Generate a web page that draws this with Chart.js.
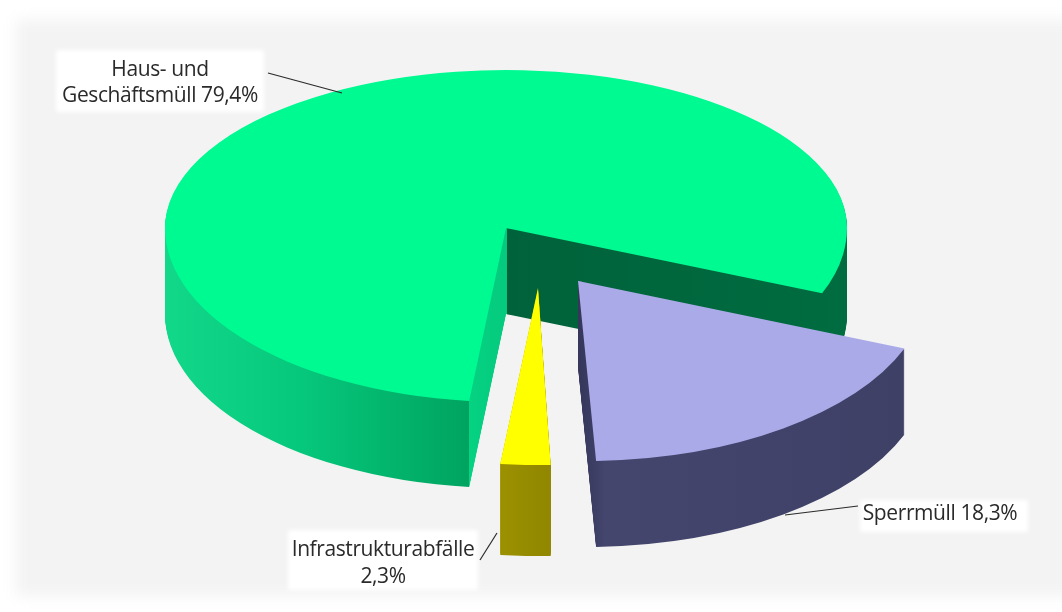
<!DOCTYPE html>
<html lang="de">
<head>
<meta charset="utf-8">
<title>Abfallmengen</title>
<script src="https://cdn.jsdelivr.net/npm/chart.js@4/dist/chart.umd.min.js"></script>
<style>
    html, body { margin: 0; padding: 0; background: #fff; }
    canvas { display: block; }
</style>
</head>
<body>
<canvas id="myChart" width="1062" height="612"></canvas>
<script>
const categories = ['Haus- und Geschäftsmüll', 'Sperrmüll', 'Infrastrukturabfälle'];
const shares = [79.4, 18.3, 2.3];
const topColors = ['#00fa92', '#aaaae8', '#ffff00'];
const labelLines = [
    ['Haus- und', 'Geschäftsmüll 79,4%'],
    ['Sperrmüll 18,3%'],
    ['Infrastrukturabfälle', '2,3%']
];

// how each slice sits in the tilted view (screen px), back half is a bit flatter than the front
const view = [
    { cx: 506, cy: 228, rx: 341, ry: 174, ryBack: 158, skew: 0, depth: 86, sides: [[165, '#12d88a'], [300, '#06c87c'], [468.5, '#00a460'], [469.5, '#05d282'], [506.9, '#05ca7e'], [507, '#00623a'], [847, '#006c40']] },
    { cx: 578, cy: 281, rx: 350, ry: 180, ryBack: 180, skew: 0.03, depth: 86, sides: [[578, '#35365a'], [600, '#44466e'], [905, '#3e4066']] },
    { cx: 538, cy: 288, rx: 350, ry: 177, ryBack: 177, skew: 0, depth: 91, sides: [[495, '#9c9200'], [555, '#908600']] }
];
const boxes = [[56, 50, 208, 62], [860, 500, 168, 32], [288, 530, 190, 60]];
const labelPos = [[160, 76, 102], [940, 520], [383, 556, 583]];
const leaders = [[268, 73, 342, 93], [785, 515, 858, 506], [480, 560, 497, 533]];

function sideGradient(ctx, arc, v, sx) {
    const stops = v.sides;
    const x0 = stops[0][0], x1 = stops[stops.length - 1][0];
    const g = ctx.createLinearGradient(arc.x + (x0 - v.cx) / sx, 0, arc.x + (x1 - v.cx) / sx, 0);
    stops.forEach(s => g.addColorStop((s[0] - x0) / (x1 - x0), s[1]));
    return g;
}

function drawHalf(ctx, arc, v, shift, color, ry, clipY, clipH) {
    const sx = v.rx / arc.outerRadius, sy = ry / arc.outerRadius;
    const opts = arc.options;
    ctx.save();
    ctx.beginPath();
    ctx.rect(0, clipY, 1062, clipH);
    ctx.clip();
    ctx.translate(v.cx, v.cy + shift);
    ctx.transform(1, 0, v.skew, 1, 0, 0);
    ctx.scale(sx, sy);
    ctx.translate(-arc.x, -arc.y);
    arc.options = Object.create(opts, { backgroundColor: { value: color || sideGradient(ctx, arc, v, sx) } });
    arc.draw(ctx);
    arc.options = opts;
    ctx.restore();
}

function drawSlice(ctx, arc, v, shift, color) {
    const mid = v.cy + shift;
    drawHalf(ctx, arc, v, shift, color, v.ryBack, 0, mid + 0.5);
    drawHalf(ctx, arc, v, shift, color, v.ry, mid, 612 - mid);
}

const tiltedPie = {
    id: 'tiltedPie',
    beforeDraw(chart) {
        const ctx = chart.ctx;
        ctx.save();
        ctx.fillStyle = '#fff';
        ctx.fillRect(0, 0, chart.width, chart.height);
        ctx.filter = 'blur(7px)';
        ctx.fillStyle = '#f3f3f3';
        ctx.fillRect(16, 20, 1100, 576);
        ctx.restore();
    },
    beforeDatasetsDraw(chart) {
        const ctx = chart.ctx;
        const arcs = chart.getDatasetMeta(0).data;
        arcs.forEach((arc, i) => {
            const v = view[i];
            for (let d = v.depth; d > 0; d--) drawSlice(ctx, arc, v, d);
            drawSlice(ctx, arc, v, 0, topColors[i]);
        });
        return false; // slices already drawn above
    },
    afterDraw(chart) {
        const ctx = chart.ctx;
        ctx.save();
        ctx.save();
        ctx.filter = 'blur(2px)';
        ctx.fillStyle = '#fff';
        boxes.forEach(b => ctx.fillRect(b[0], b[1], b[2], b[3]));
        ctx.restore();
        ctx.strokeStyle = '#2a2a2a';
        ctx.lineWidth = 1.2;
        leaders.forEach(l => {
            ctx.beginPath();
            ctx.moveTo(l[0], l[1]);
            ctx.lineTo(l[2], l[3]);
            ctx.stroke();
        });
        ctx.fillStyle = '#2a2a2a';
        ctx.font = '21px "Open Sans"';
        ctx.textAlign = 'center';
        ctx.letterSpacing = '-0.4px';
        labelLines.forEach((lines, i) => {
            lines.forEach((t, j) => ctx.fillText(t, labelPos[i][0], labelPos[i][j + 1]));
        });
        ctx.restore();
    }
};

new Chart(document.getElementById('myChart'), {
    type: 'pie',
    data: {
        labels: categories,
        datasets: [{ data: shares, backgroundColor: topColors, borderWidth: 0 }]
    },
    options: {
        responsive: false,
        animation: false,
        rotation: 186.2,
        plugins: { legend: { display: false }, tooltip: { enabled: false } }
    },
    plugins: [tiltedPie]
});
</script>
</body>
</html>
